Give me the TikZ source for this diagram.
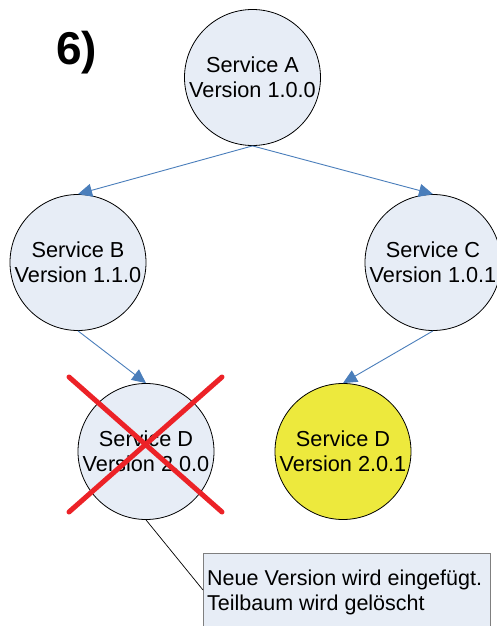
\documentclass[tikz,border=0pt]{standalone}
\usepackage{fontspec}
\setmainfont{Liberation Sans}
\usetikzlibrary{arrows.meta}
\definecolor{svcfill}{HTML}{E7EDF6}
\definecolor{newfill}{HTML}{EDE93D}
\definecolor{linkblue}{HTML}{4A7EBB}
\definecolor{crossred}{HTML}{EC2227}
\definecolor{boxedge}{HTML}{7F7F7F}
\tikzset{
  svc/.style={circle, draw=black, line width=0.8pt, fill=svcfill, minimum size=136pt, inner sep=0pt,
    align=center, font=\fontsize{21.7pt}{25pt}\selectfont},
  newsvc/.style={svc, fill=newfill},
  link/.style={draw=linkblue, line width=0.9pt, -{Triangle[length=14pt,width=13pt]}},
  cross/.style={draw=crossred, line width=5pt, line cap=round},
  notebox/.style={draw=boxedge, line width=1pt, fill=svcfill},
  notetxt/.style={anchor=base west, inner sep=0pt, align=left, font=\fontsize{21.5pt}{25pt}\selectfont},
}
\begin{document}
\begin{tikzpicture}[x=1pt, y=-1pt]
\useasboundingbox (0,0) rectangle (497,626);
\clip (0,0) rectangle (497,626);
\fill[white] (0,0) rectangle (497,626);
\node[anchor=base west, inner sep=0pt, font=\fontsize{46pt}{50pt}\selectfont\bfseries] (title) at (56,65) {6)};
\node[svc] (A) at (252.5,77.5) {Service A\\Version 1.0.0};
\node[svc] (B) at (78,262.5) {Service B\\Version 1.1.0};
\node[svc] (C) at (433,262.5) {Service C\\Version 1.0.1};
\node[svc] (D1) at (146,451.5) {Service D\\Version 2.0.0};
\node[newsvc] (D2) at (343,451.5) {Service D\\Version 2.0.1};
\draw[link] (A.south) -- (B.north);
\draw[link] (A.south) -- (C.north);
\draw[link] (B.south) -- (D1.north);
\draw[link] (C.south) -- (D2.north);
\coordinate (x1) at (69,377);
\coordinate (x2) at (222,512);
\coordinate (x3) at (222,377);
\coordinate (x4) at (69,512);
\draw[cross] (x1) -- (x2);
\draw[cross] (x3) -- (x4);
\draw[notebox] (203,553.5) rectangle (490.5,660);
\coordinate (callout) at (203,590);
\draw[black, line width=0.7pt] (D1.south) -- (callout);
\node[notetxt] (note) at (207,585) {Neue Version wird eingefügt.};
\node[notetxt] (note2) at (207,610) {Teilbaum wird gelöscht};
\end{tikzpicture}
\end{document}
